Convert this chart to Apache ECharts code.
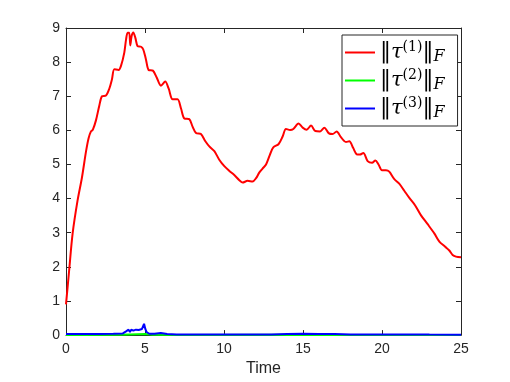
<!DOCTYPE html>
<html>
<head>
<meta charset="utf-8">
<script src="https://cdn.jsdelivr.net/npm/echarts@6/dist/echarts.min.js"></script>
<style>html,body{margin:0;padding:0;background:#fff;}#c{width:510px;height:382px;}</style>
</head>
<body>
<div id="c"></div>
<script>
// Data
var redTime = [0.0,0.2,0.42,0.73,1.01,1.27,1.43,1.58,1.7,1.9,2.11,2.28,2.53,2.74,2.91,3.06,3.33,3.48,3.69,3.8,3.9,4.0,4.07,4.15,4.26,4.39,4.53,4.75,4.89,5.06,5.23,5.5,5.74,6.01,6.28,6.5,6.75,7.06,7.28,7.49,7.8,8.01,8.23,8.54,8.82,9.07,9.39,9.7,10.02,10.34,10.65,10.97,11.18,11.49,11.81,12.03,12.23,12.44,12.66,12.91,13.12,13.46,13.71,13.92,14.18,14.39,14.72,14.98,15.23,15.51,15.78,16.08,16.35,16.62,16.87,17.13,17.4,17.72,17.93,18.18,18.4,18.6,18.82,19.09,19.37,19.58,19.78,20.0,20.25,20.46,20.78,21.09,21.41,21.73,22.1,22.47,22.89,23.31,23.63,24.0,24.26,24.47,24.68,25.0];
var redValues = [0.9,1.9,2.98,3.94,4.62,5.39,5.77,5.97,6.02,6.3,6.73,7.0,7.02,7.22,7.5,7.79,7.77,7.89,8.28,8.66,8.86,8.86,8.49,8.76,8.87,8.71,8.47,8.45,8.37,8.08,7.77,7.75,7.55,7.31,7.43,7.22,6.91,6.91,6.64,6.35,6.33,6.11,5.92,5.89,5.68,5.53,5.39,5.14,4.95,4.81,4.69,4.54,4.47,4.52,4.5,4.6,4.76,4.88,5.0,5.29,5.5,5.6,5.82,6.04,6.01,6.04,6.2,6.08,6.02,6.14,5.98,5.97,6.08,5.92,5.89,5.97,5.8,5.66,5.68,5.48,5.3,5.29,5.34,5.1,5.05,5.12,5.0,4.83,4.83,4.79,4.57,4.44,4.23,4.02,3.8,3.51,3.25,2.98,2.74,2.59,2.48,2.35,2.3,2.28];

var greenTime = [0,3.5,4,5,5.5,7,15,17,25];
var greenValues = [0.0,0.01,0.02,0.03,0.01,0.005,0.01,0.005,0.0];

var blueTime = [0,1,2,3,3.6,3.8,3.96,4.05,4.13,4.26,4.43,4.6,4.81,4.94,5.02,5.1,5.27,5.6,6.0,6.4,7,8,10,12,13,14,15,16,17,18,20,22,23,25];
var blueValues = [0.03,0.03,0.035,0.04,0.05,0.11,0.16,0.09,0.16,0.13,0.16,0.15,0.18,0.33,0.18,0.09,0.04,0.04,0.06,0.03,0.02,0.015,0.015,0.02,0.02,0.03,0.04,0.03,0.035,0.02,0.02,0.02,0.015,0.01];

var seriesNames = ['tau1','tau2','tau3'];
var seriesIdx = {tau1:'1', tau2:'2', tau3:'3'};
var xTicks = {min:0, max:25, interval:5};
var yTicks = {min:0, max:9, interval:1};

function pairs(t, v){ return t.map(function(x,i){ return [x, v[i]]; }); }

var axisColor = '#262626';
var chart = echarts.init(document.getElementById('c'), null, {renderer:'canvas'});
var baseAxis = {
  axisLine:{show:true, onZero:false, lineStyle:{color:axisColor, width:1}},
  axisTick:{show:true, inside:true, length:5, lineStyle:{color:axisColor}},
  splitLine:{show:false}
};
chart.setOption({
  animation:false,
  backgroundColor:'#fff',
  grid:{left:66, right:49, top:28, bottom:42},
  legend:{
    data:seriesNames,
    orient:'vertical',
    left:342, top:35,
    backgroundColor:'#fff',
    borderColor:'#262626', borderWidth:1,
    padding:[5,13,5,3],
    itemWidth:30, itemHeight:2, itemGap:3,
    icon:'rect',
    formatter:function(name){
      return '{n|\u2016}{i|\u03c4}{s|(' + seriesIdx[name] + ')}{n|\u2016}{b|F}';
    },
    textStyle:{
      color:'#000',
      rich:{
        n:{fontFamily:'DejaVu Serif', fontSize:22, lineHeight:25, verticalAlign:'middle'},
        i:{fontFamily:'DejaVu Serif', fontStyle:'italic', fontSize:21, lineHeight:25, verticalAlign:'middle'},
        s:{fontFamily:'DejaVu Serif', fontSize:14, lineHeight:14, verticalAlign:'top'},
        b:{fontFamily:'DejaVu Serif', fontStyle:'italic', fontSize:16, lineHeight:14, verticalAlign:'bottom'}
      }
    }
  },
  xAxis:[
    Object.assign({}, baseAxis, {type:'value', position:'bottom', min:xTicks.min, max:xTicks.max, interval:xTicks.interval,
      name:'Time', nameLocation:'middle', nameGap:19,
      nameTextStyle:{color:axisColor, fontFamily:'Liberation Sans', fontSize:16, verticalAlign:'top'},
      axisLabel:{color:axisColor, fontFamily:'Liberation Sans', fontSize:14, margin:7}}),
    Object.assign({}, baseAxis, {type:'value', position:'top', min:xTicks.min, max:xTicks.max, interval:xTicks.interval,
      axisLabel:{show:false}})
  ],
  yAxis:[
    Object.assign({}, baseAxis, {type:'value', position:'left', min:yTicks.min, max:yTicks.max, interval:yTicks.interval,
      axisLabel:{color:axisColor, fontFamily:'Liberation Sans', fontSize:14, margin:6}}),
    Object.assign({}, baseAxis, {type:'value', position:'right', min:yTicks.min, max:yTicks.max, interval:yTicks.interval,
      axisLabel:{show:false}})
  ],
  series:[
    {name:'tau1', type:'line', data:pairs(redTime, redValues), showSymbol:false, smooth:0.3,
      lineStyle:{color:'#ff0000', width:2}, itemStyle:{color:'#ff0000'}, z:3},
    {name:'tau2', type:'line', data:pairs(greenTime, greenValues), showSymbol:false,
      lineStyle:{color:'#00ff00', width:2}, itemStyle:{color:'#00ff00'}, z:2},
    {name:'tau3', type:'line', data:pairs(blueTime, blueValues), showSymbol:false,
      lineStyle:{color:'#0000ff', width:2}, itemStyle:{color:'#0000ff'}, z:4}
  ]
});
</script>
</body>
</html>
